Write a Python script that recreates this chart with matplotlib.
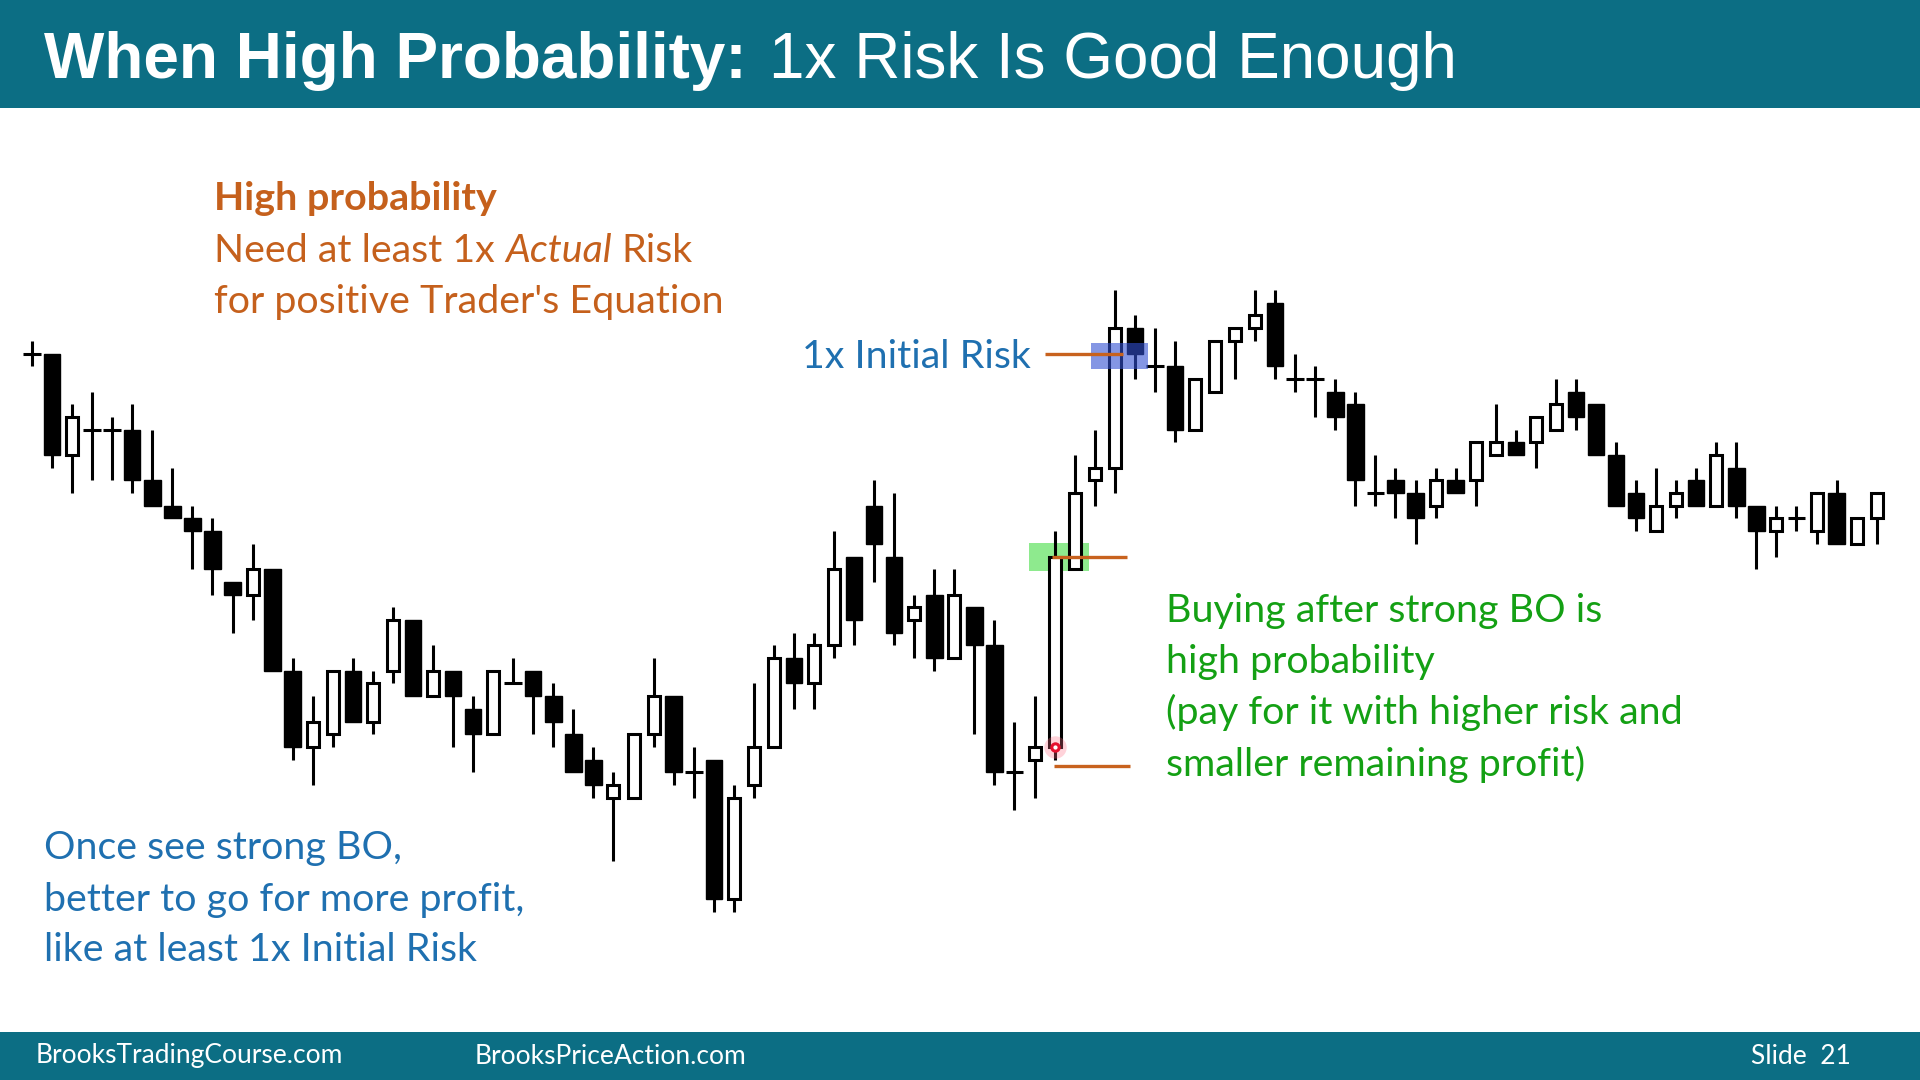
import matplotlib.pyplot as plt
from matplotlib.patches import Rectangle

# price bars (1 unit = 1 tick)
opens = [200, 200, 192, 194, 194, 194, 190, 188, 187, 186, 182, 181, 183, 175, 169, 170,
         175, 171, 175, 179, 173, 175, 172, 170, 174, 175, 173, 170, 168, 165, 165, 170,
         173, 167, 168, 157, 166, 169, 176, 174, 177, 184, 188, 184, 179, 181, 176, 180,
         177, 167, 168, 169, 183, 190, 191, 202, 199, 199, 194, 197, 201, 202, 204, 198,
         198, 197, 196, 189, 190, 189, 188, 190, 190, 192, 193, 193, 194, 197, 196, 192,
         189, 186, 188, 190, 188, 191, 188, 186, 187, 186, 189, 185, 187]
highs = [201, 200, 196, 197, 195, 196, 194, 191, 188, 187, 182, 185, 183, 176, 173, 175,
         176, 175, 180, 179, 177, 175, 173, 175, 176, 175, 174, 172, 169, 167, 170, 176,
         173, 169, 168, 166, 174, 177, 178, 178, 186, 184, 190, 189, 181, 183, 183, 180,
         179, 171, 173, 186, 192, 194, 205, 203, 202, 201, 198, 201, 202, 205, 205, 200,
         199, 198, 197, 192, 191, 190, 191, 191, 193, 196, 194, 195, 198, 198, 196, 193,
         190, 191, 190, 191, 193, 193, 188, 188, 188, 189, 190, 187, 189]
lows = [199, 191, 189, 190, 190, 189, 188, 187, 183, 181, 178, 179, 175, 168, 166, 169,
        171, 170, 174, 173, 173, 169, 167, 170, 174, 170, 169, 167, 165, 160, 165, 169,
        166, 165, 156, 156, 165, 169, 172, 172, 176, 177, 182, 177, 176, 175, 176, 170,
        166, 164, 165, 168, 183, 188, 189, 198, 197, 193, 194, 197, 198, 201, 198, 197,
        195, 194, 188, 188, 187, 185, 187, 189, 188, 192, 192, 191, 194, 194, 192, 188,
        186, 186, 187, 188, 188, 187, 183, 184, 186, 185, 185, 185, 185]
closes = [200, 192, 195, 194, 194, 190, 188, 187, 186, 183, 181, 183, 175, 169, 171, 175,
          171, 174, 179, 173, 175, 173, 170, 175, 174, 173, 171, 167, 166, 166, 170, 173,
          167, 167, 157, 165, 169, 176, 174, 177, 183, 179, 185, 178, 180, 176, 181, 177,
          167, 167, 169, 184, 189, 191, 202, 200, 199, 194, 198, 201, 202, 203, 199, 198,
          198, 195, 190, 189, 189, 187, 190, 189, 193, 193, 192, 195, 196, 195, 192, 188,
          187, 188, 189, 188, 192, 188, 186, 187, 187, 189, 185, 187, 189]

entry_price = 184
stop_price = 167.5
target_price = 200
signal_bar = 51

TEAL = "#0C6E84"
ORANGE = "#C5601C"
BLUE = "#1F70B0"
GREEN = "#14A014"
LINE_ORANGE = "#C8621E"

fig = plt.figure(figsize=(19.2, 10.8), dpi=100)

# slide layer in pixel units
deco = fig.add_axes([0, 0, 1, 1])
deco.set_xlim(0, 1920)
deco.set_ylim(1080, 0)
deco.axis("off")
deco.add_patch(Rectangle((0, 0), 1920, 108, color=TEAL, lw=0))
deco.add_patch(Rectangle((0, 1032), 1920, 48, color=TEAL, lw=0))

deco.text(44, 78, "When High Probability:", color="white", fontsize=46,
          fontweight="bold", family="Liberation Sans", va="baseline")
deco.text(769, 78, "1x Risk Is Good Enough", color="white", fontsize=46,
          family="Liberation Sans", va="baseline")

body_font = "Lato"
fs = 28.4
deco.text(214, 210, "High probability", color=ORANGE, fontsize=fs,
          fontweight="bold", family=body_font, va="baseline")
fig.canvas.draw()
r = fig.canvas.get_renderer()
sp = deco.text(100, 500, "x x", fontsize=fs, family=body_font)
sp2 = deco.text(100, 500, "xx", fontsize=fs, family=body_font)
space = sp.get_window_extent(r).width - sp2.get_window_extent(r).width
sp.remove()
sp2.remove()
t = deco.text(214, 262, "Need at least 1x", color=ORANGE, fontsize=fs,
              family=body_font, va="baseline")
x = t.get_window_extent(r).x1 + space
t = deco.text(x, 262, "Actual", color=ORANGE, fontsize=fs, style="italic",
              family=body_font, va="baseline")
x = t.get_window_extent(r).x1 + space
deco.text(x, 262, "Risk", color=ORANGE, fontsize=fs, family=body_font, va="baseline")
deco.text(214, 313, "for positive Trader's Equation", color=ORANGE, fontsize=fs,
          family=body_font, va="baseline")

deco.text(802, 368, "1x Initial Risk", color=BLUE, fontsize=fs,
          family=body_font, va="baseline")
for y, s in zip([859, 911, 961], ["Once see strong BO,", "better to go for more profit,",
                                  "like at least 1x Initial Risk"]):
    deco.text(44, y, s, color=BLUE, fontsize=fs, family=body_font, va="baseline")

for y, s in zip([622, 673, 724, 776], ["Buying after strong BO is", "high probability",
                                       "(pay for it with higher risk and",
                                       "smaller remaining profit)"]):
    deco.text(1166, y, s, color=GREEN, fontsize=fs, family=body_font, va="baseline")

deco.text(36, 1056, "BrooksTradingCourse.com", color="white", fontsize=19,
          family=body_font, va="center")
deco.text(475, 1056, "BrooksPriceAction.com", color="white", fontsize=19,
          family=body_font, va="center")
deco.text(1851, 1056, "Slide  21", color="white", fontsize=19,
          family=body_font, va="center", ha="right")

# price chart
ax = fig.add_axes([0, 0, 1, 1])
ax.set_facecolor("none")
ax.axis("off")
ax.set_xlim(-1.596, 94.16)
ax.set_ylim(142.75, 227.86)

idx = list(range(len(opens)))
ax.vlines(idx, lows, highs, color="black", lw=2.2, zorder=3)

up = [i for i in idx if closes[i] > opens[i]]
down = [i for i in idx if closes[i] < opens[i]]
doji = [i for i in idx if closes[i] == opens[i]]

ax.bar(down, [opens[i] - closes[i] for i in down], bottom=[closes[i] for i in down],
       width=0.82, color="black", edgecolor="black", lw=1, zorder=4)
ax.bar(up, [closes[i] - opens[i] for i in up], bottom=[opens[i] for i in up],
       width=0.6, color="white", edgecolor="black", lw=2.2, zorder=4)
ax.hlines([opens[i] for i in doji], [i - 0.44 for i in doji], [i + 0.44 for i in doji],
          color="black", lw=2.2, zorder=4)

# trade annotations
ax.add_patch(Rectangle((49.7, 182.9), 3.0, 2.2, color="#8EEA8E", lw=0, zorder=2))
ax.add_patch(Rectangle((52.8, 198.75), 2.85, 2.05, color="#3250D2", alpha=0.6,
                       lw=0, zorder=5))
ax.hlines(target_price, 50.5, 54.4, color=LINE_ORANGE, lw=2.4, zorder=6)
ax.hlines(entry_price, 50.85, 54.6, color=LINE_ORANGE, lw=2.4, zorder=6)
ax.hlines(stop_price, 50.95, 54.75, color=LINE_ORANGE, lw=2.4, zorder=6)
ax.scatter([signal_bar], [opens[signal_bar]], s=260, color="#FF6E85", alpha=0.3,
           lw=0, zorder=6)
ax.scatter([signal_bar], [opens[signal_bar]], s=28, facecolor="white",
           edgecolor="#E5102E", lw=2.2, zorder=7)

fig.savefig("out.png", dpi=100)
